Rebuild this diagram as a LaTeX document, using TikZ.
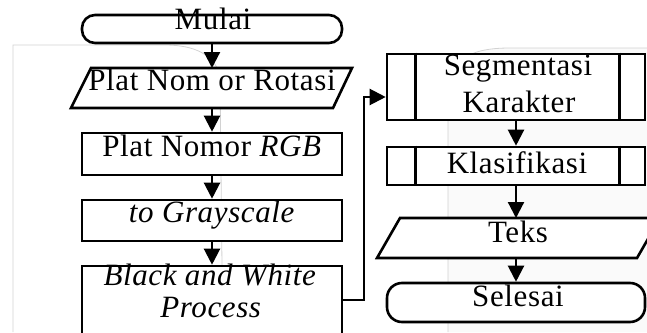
\documentclass[tikz,border=0pt]{standalone}
\usepackage{fontspec}
\setmainfont{Liberation Serif}[LetterSpace=2]
\usetikzlibrary{arrows.meta}
\begin{document}
\begin{tikzpicture}[x=1pt,y=-1pt,
  box/.style={draw, line width=2.6pt, fill=white, minimum width=260pt, inner sep=0pt},
  term/.style={box, rounded corners=13pt},
  pgram/.style={draw, line width=2.6pt, fill=white, line join=miter},
  txt/.style={anchor=base, inner sep=0pt, font=\fontsize{31}{33}\selectfont},
  conn/.style={line width=2.2pt, -{Triangle[width=16pt,length=16pt]}},
  ghost/.style={draw=gray!35, line width=0.8pt}]
\useasboundingbox (0,0) rectangle (647,332);
% faint background artefacts
\fill[gray!4] (448,332) -- (448,100) .. controls (448,62) and (465,48) .. (510,48) -- (647,48) -- (647,332) -- cycle;
\draw[ghost] (448,332) -- (448,100) .. controls (448,62) and (465,48) .. (510,48) -- (647,48);
\draw[ghost] (13,332) -- (13,45) -- (165,45) .. controls (195,45) and (214,55) .. (220,75) -- (222,266);
% shapes
\node[term, minimum height=28pt] (mulai) at (212,29) {};
\draw[pgram] (91,68) -- (352,68) -- (333,108) -- (71,108) -- cycle;
\coordinate (rotT) at (212,68);
\coordinate (rotB) at (212,108);
\node[box, minimum height=42pt] (rgb) at (212,154) {};
\node[box, minimum height=41pt] (gray) at (212,220.5) {};
\node[box, minimum height=74pt] (bw) at (212,303) {};
\node[box, minimum width=258pt, minimum height=66pt] (seg) at (516,87) {};
\draw[line width=2.6pt] ([xshift=30pt]seg.north west) -- ([xshift=30pt]seg.south west)
  ([xshift=-27pt]seg.north east) -- ([xshift=-27pt]seg.south east);
\node[box, minimum width=258pt, minimum height=38pt] (kla) at (516,166) {};
\draw[line width=2.6pt] ([xshift=30pt]kla.north west) -- ([xshift=30pt]kla.south west)
  ([xshift=-27pt]kla.north east) -- ([xshift=-27pt]kla.south east);
\draw[pgram] (400,218) -- (660,218) -- (637,258) -- (377,258) -- cycle;
\coordinate (teksT) at (516,218);
\coordinate (teksB) at (516,258);
\node[term, rounded corners=15pt, minimum width=258pt, minimum height=39pt] (selesai) at (516,302.5) {};
% connectors
\draw[conn] (mulai.south) -- (rotT);
\draw[conn] (rotB) -- (rgb.north);
\draw[conn] (rgb.south) -- (gray.north);
\draw[conn] (gray.south) -- (bw.north);
\draw[conn] ([yshift=3pt]bw.east) -- ++(21,0) |- ([yshift=-10pt]seg.west);
\draw[conn] (seg.south) -- (kla.north);
\draw[conn] (kla.south) -- (teksT);
\draw[conn] (teksB) -- (selesai.north);
% texts
\node[txt] (tMulai) at (213,29) {Mulai};
\node[txt] (tRot) at (212,90) {Plat Nom or Rotasi};
\node[txt] (tRgb) at (212,156) {Plat Nomor \textit{RGB}};
\node[txt] (tGray) at (212,222) {\textit{to Grayscale}};
\node[txt] (tBw1) at (210,285) {\textit{Black and White}};
\node[txt] (tBw2) at (211,317) {\textit{Process}};
\node[txt] (tSeg1) at (518,75) {Segmentasi};
\node[txt] (tSeg2) at (519,112) {Karakter};
\node[txt] (tKla) at (517,173) {Klasifikasi};
\node[txt] (tTeks) at (518,242) {Teks};
\node[txt] (tSel) at (518,306) {Selesai};
\end{tikzpicture}
\end{document}
